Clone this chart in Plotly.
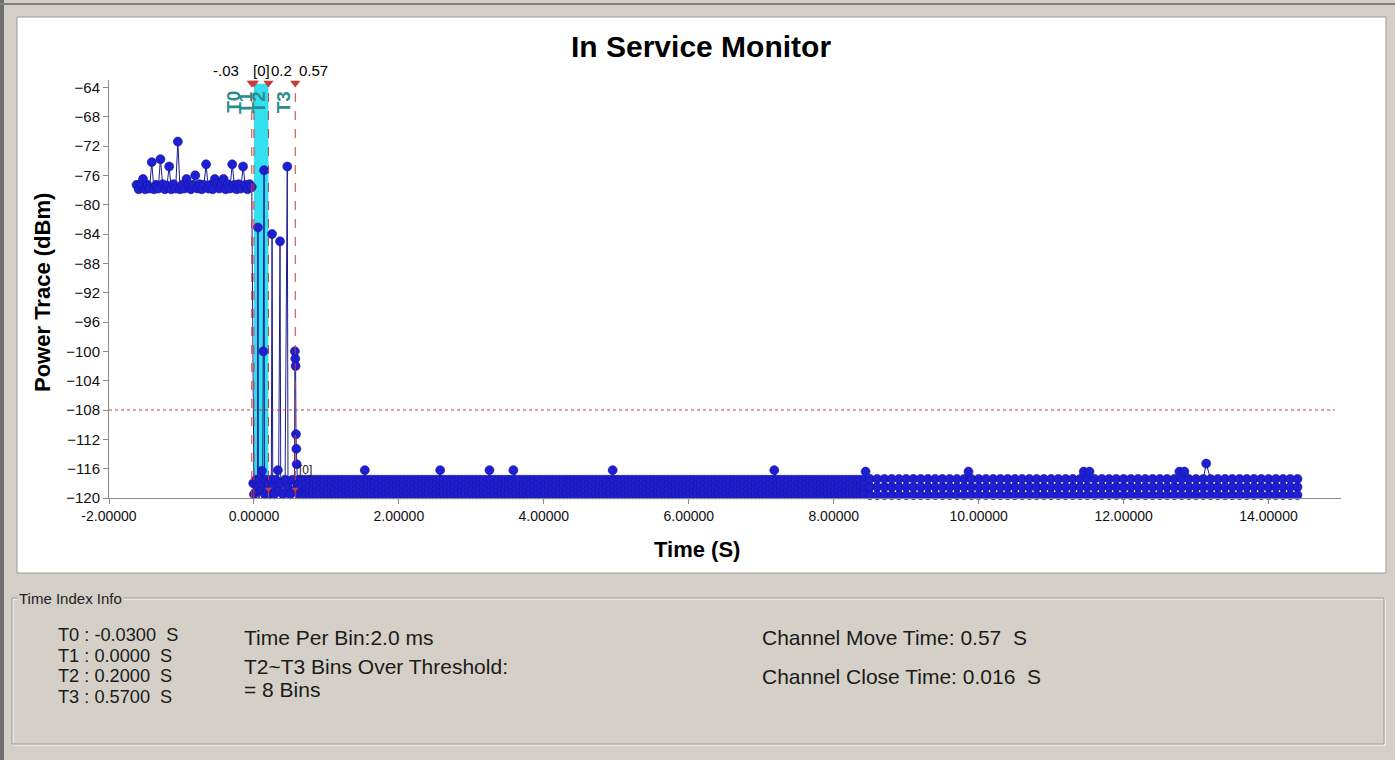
import numpy as np
import plotly.graph_objects as go

# ---------------- data ----------------
T_MARKS = [-0.03, 0.0, 0.2, 0.57]
T_NAMES = ["T0", "T1", "T2", "T3"]
T_TOP_LABELS = ["-.03", "[0]", "0.2", "0.57"]
THRESHOLD = -108.0

x_tick_vals = [-2, 0, 2, 4, 6, 8, 10, 12, 14]
x_tick_text = ["-2.00000", "0.00000", "2.00000", "4.00000", "6.00000",
               "8.00000", "10.00000", "12.00000", "14.00000"]
y_tick_vals = [-120, -116, -112, -108, -104, -100, -96, -92, -88, -84,
               -80, -76, -72, -68, -64]

# before the channel move (samples every 30 ms from -1.62 s)
pre_start, pre_step = -1.62, 0.03
pre_v = [-77.3, -77.9, -77.2, -76.5, -77.9, -77.3, -77.8, -74.2, -77.9, -77.3,
         -77.8, -73.8, -77.2, -77.9, -77.4, -74.8, -77.9, -77.2, -77.8, -71.4,
         -77.9, -77.3, -77.8, -76.5, -77.3, -77.9, -77.3, -76.0, -77.8, -77.2,
         -77.9, -77.3, -74.5, -77.8, -77.3, -77.9, -76.5, -77.2, -77.8, -77.3,
         -76.5, -77.9, -77.2, -77.8, -74.5, -77.3, -77.9, -77.2, -77.8, -74.8,
         -77.3, -77.9, -77.2, -77.6]

# transition window
trans_t = [-0.01, 0.0, 0.01, 0.02, 0.03, 0.04, 0.05, 0.055, 0.06, 0.07,
           0.08, 0.09, 0.10, 0.11, 0.12, 0.13, 0.14, 0.145, 0.15, 0.16,
           0.18, 0.20, 0.22, 0.24, 0.25, 0.26, 0.28, 0.30, 0.33, 0.34,
           0.36, 0.37, 0.40, 0.43, 0.46, 0.47, 0.50, 0.53, 0.56, 0.565,
           0.57, 0.575, 0.58, 0.585, 0.59, 0.60]
trans_v = [-118.0, -119.5, -118.0, -120.3, -117.5, -119.0, -118.0, -83.1, -118.5, -120.3,
           -117.5, -119.0, -118.0, -116.3, -119.0, -100.0, -75.3, -118.0, -119.5, -117.5,
           -119.0, -118.0, -119.5, -117.5, -84.0, -118.5, -119.5, -117.5, -116.2, -119.0,
           -85.0, -118.0, -119.5, -117.5, -74.8, -118.5, -119.5, -117.5, -119.0, -100.0,
           -101.0, -102.0, -111.3, -113.3, -115.4, -118.0]

# noise floor after the move: dot rows in every column
dense_levels = [-117.5, -118.2, -118.9, -119.5]
sparse_levels = [-117.4, -118.5, -119.6]
dense_start, dense_end, dense_step = 0.62, 8.43, 0.05
sparse_start, sparse_end, sparse_step = 8.5, 14.45, 0.1
spike_t = [0.84, 1.20, 1.53, 2.57, 3.25, 3.58, 4.08, 4.95, 5.98, 7.18,
           8.44, 9.86, 11.45, 11.53, 12.77, 12.84, 12.93, 13.14]
spike_v = [-120.5, -120.5, -116.2, -116.2, -116.2, -116.2, -120.5, -116.2, -120.5, -116.2,
           -116.4, -116.4, -116.4, -116.4, -116.4, -116.4, -120.6, -115.3]

# ---------------- build series ----------------
pts = []
for i, v in enumerate(pre_v):
    pts.append((pre_start + i * pre_step, v))
for t, v in zip(trans_t, trans_v):
    pts.append((t, v))
band = []
k = 0
for t in np.arange(dense_start, dense_end, dense_step):
    lv = dense_levels if k % 2 == 0 else dense_levels[::-1]
    band += [(float(t), v) for v in lv]
    k += 1
for t in np.arange(sparse_start, sparse_end, sparse_step):
    lv = sparse_levels if k % 2 == 0 else sparse_levels[::-1]
    band += [(float(t), v) for v in lv]
    k += 1
for t, v in zip(spike_t, spike_v):
    band.append((t, v))
band.sort(key=lambda p: p[0])
pts += band
xs = [p[0] for p in pts]
ys = [p[1] for p in pts]

# ---------------- layout helpers ----------------
W, H = 1395, 760
L, R, TOP, BOT = 109, 1341, 80, 498
def px(x):
    return (x - L) / (R - L)
def py(y):
    return (BOT - y) / (BOT - TOP)

FONT = "Liberation Sans, Arial, sans-serif"
GRAY = "#D4D0C8"
RED = "#C83C3C"
TEAL = "#2A8C8C"

fig = go.Figure()

fig.add_trace(go.Scatter(
    x=xs, y=ys, mode="lines+markers",
    line=dict(color="#1C1C8C", width=1),
    marker=dict(size=9, color="#1E1ED2", line=dict(color="#16169A", width=0.6)),
    cliponaxis=False, showlegend=False, hoverinfo="skip"))

# marker triangles
fig.add_trace(go.Scatter(
    x=T_MARKS, y=[-63.4] * 4, mode="markers",
    marker=dict(symbol="triangle-down", size=9, color=RED),
    cliponaxis=False, showlegend=False, hoverinfo="skip"))
fig.add_trace(go.Scatter(
    x=T_MARKS[2:], y=[-118.8] * 2, mode="markers",
    marker=dict(symbol="triangle-down", size=6, color=RED),
    cliponaxis=False, showlegend=False, hoverinfo="skip"))

shapes = []
shapes.append(dict(type="rect", xref="paper", yref="paper", x0=px(0), x1=px(W), y0=py(0), y1=py(H),
                   fillcolor=GRAY, line=dict(width=0), layer="below"))
shapes.append(dict(type="rect", xref="paper", yref="paper", x0=px(0), x1=px(4), y0=py(0), y1=py(H),
                   fillcolor="#6E6E6E", line=dict(width=0), layer="below"))
shapes.append(dict(type="rect", xref="paper", yref="paper", x0=px(0), x1=px(W), y0=py(3), y1=py(5),
                   fillcolor="#808080", line=dict(width=0), layer="below"))
# white chart panel
shapes.append(dict(type="rect", xref="paper", yref="paper", x0=px(17), x1=px(1386), y0=py(17), y1=py(573),
                   fillcolor="white", line=dict(color="#9A9A9A", width=1), layer="below"))
# cyan window T1..T2
shapes.append(dict(type="rect", xref="x", yref="y", x0=T_MARKS[1], x1=T_MARKS[2], y0=-119.0, y1=-63.5,
                   fillcolor="#33E0F0", line=dict(width=0), layer="below"))
# threshold
shapes.append(dict(type="line", xref="paper", yref="y", x0=0, x1=0.995, y0=THRESHOLD, y1=THRESHOLD,
                   line=dict(color=RED, width=1, dash="dot")))
for t in T_MARKS:
    shapes.append(dict(type="line", xref="x", yref="y", x0=t, x1=t, y0=-120, y1=-63.4,
                       line=dict(color=RED, width=1, dash="dash")))
# group box (etched)
shapes.append(dict(type="rect", xref="paper", yref="paper", x0=px(13), x1=px(1385), y0=py(599), y1=py(745),
                   line=dict(color="#FFFFFF", width=1), layer="below"))
shapes.append(dict(type="rect", xref="paper", yref="paper", x0=px(12), x1=px(1384), y0=py(598), y1=py(744),
                   line=dict(color="#9C9A94", width=1), layer="below"))

ann = []
def text(t, x, y, size, color="black", xa="center", ya="middle", angle=0, bg=None):
    d = dict(text=t, x=px(x), y=py(y), xref="paper", yref="paper", xanchor=xa, yanchor=ya,
             textangle=angle, showarrow=False, font=dict(size=size, color=color, family=FONT))
    if bg:
        d["bgcolor"] = bg
    ann.append(d)

text("<b>In Service Monitor</b>", 701, 47, 30)
text("<b>Power Trace (dBm)</b>", 42, 293, 22, angle=-90)
text("<b>Time (S)</b>", 697, 549, 22)

# T labels (rotated)
label_shift = [-19, -9, -10, -12]
for t, name, sh in zip(T_MARKS, T_NAMES, label_shift):
    ann.append(dict(text="<b>%s</b>" % name, x=t, y=-66.0, xref="x", yref="y", xshift=sh,
                    xanchor="center", yanchor="middle",
                    textangle=-90, showarrow=False,
                    font=dict(size=19, color=TEAL, family=FONT)))
# top value labels
top_anchor = ["right", "left", "left", "left"]
top_shift = [-11, -3, 1, 2]
for t, lab, a, sh in zip(T_MARKS, T_TOP_LABELS, top_anchor, top_shift):
    ann.append(dict(text=lab, x=t, y=py(70), xref="x", yref="paper", xanchor=a, yanchor="middle",
                    xshift=sh, showarrow=False, font=dict(size=15, color="black", family=FONT)))
ann.append(dict(text="[0]", x=T_MARKS[3], y=-116.2, xref="x", yref="y", xanchor="left",
                yanchor="middle", xshift=2,
                showarrow=False, font=dict(size=12, color="#222222", family=FONT)))

# info panel
text("Time Index Info", 17, 598, 15, color="#222222", xa="left", bg=GRAY)
t_rows = [("T0 : -0.0300  S", 635), ("T1 : 0.0000  S", 655.5),
          ("T2 : 0.2000  S", 676), ("T3 : 0.5700  S", 696.5)]
for txt, y in t_rows:
    text(txt.replace("  ", "&nbsp; "), 56, y, 18.2, color="#1A1A1A", xa="left")
info = [
    ("Time Per Bin:2.0 ms", 242, 637),
    ("T2~T3 Bins Over Threshold:", 242, 666),
    ("= 8 Bins", 242, 689),
    ("Channel Move Time: 0.57  S", 760, 637),
    ("Channel Close Time: 0.016  S", 760, 676),
]
for txt, x, y in info:
    text(txt.replace("  ", "&nbsp; "), x, y, 21, color="#1A1A1A", xa="left")

fig.update_layout(
    width=W, height=H,
    margin=dict(l=L, r=W - R, t=TOP, b=H - BOT, pad=0),
    paper_bgcolor=GRAY, plot_bgcolor="white",
    shapes=shapes, annotations=ann, showlegend=False,
    xaxis=dict(range=[-2, 15], tickvals=x_tick_vals, ticktext=x_tick_text,
               showgrid=False, zeroline=False, showline=True, linecolor="#8A8A8A", linewidth=1,
               ticks="outside", ticklen=5, tickcolor="#8A8A8A",
               tickfont=dict(size=14, color="#111111", family=FONT)),
    yaxis=dict(range=[-120, -63], tickvals=y_tick_vals,
               showgrid=False, zeroline=False, showline=True, linecolor="#8A8A8A", linewidth=1,
               ticks="outside", ticklen=5, tickcolor="#8A8A8A",
               tickfont=dict(size=15, color="#111111", family=FONT)),
)

fig.write_html("out.html", config={"displayModeBar": False},
               post_script="document.body.style.margin='0px';document.body.style.overflow='hidden';")
